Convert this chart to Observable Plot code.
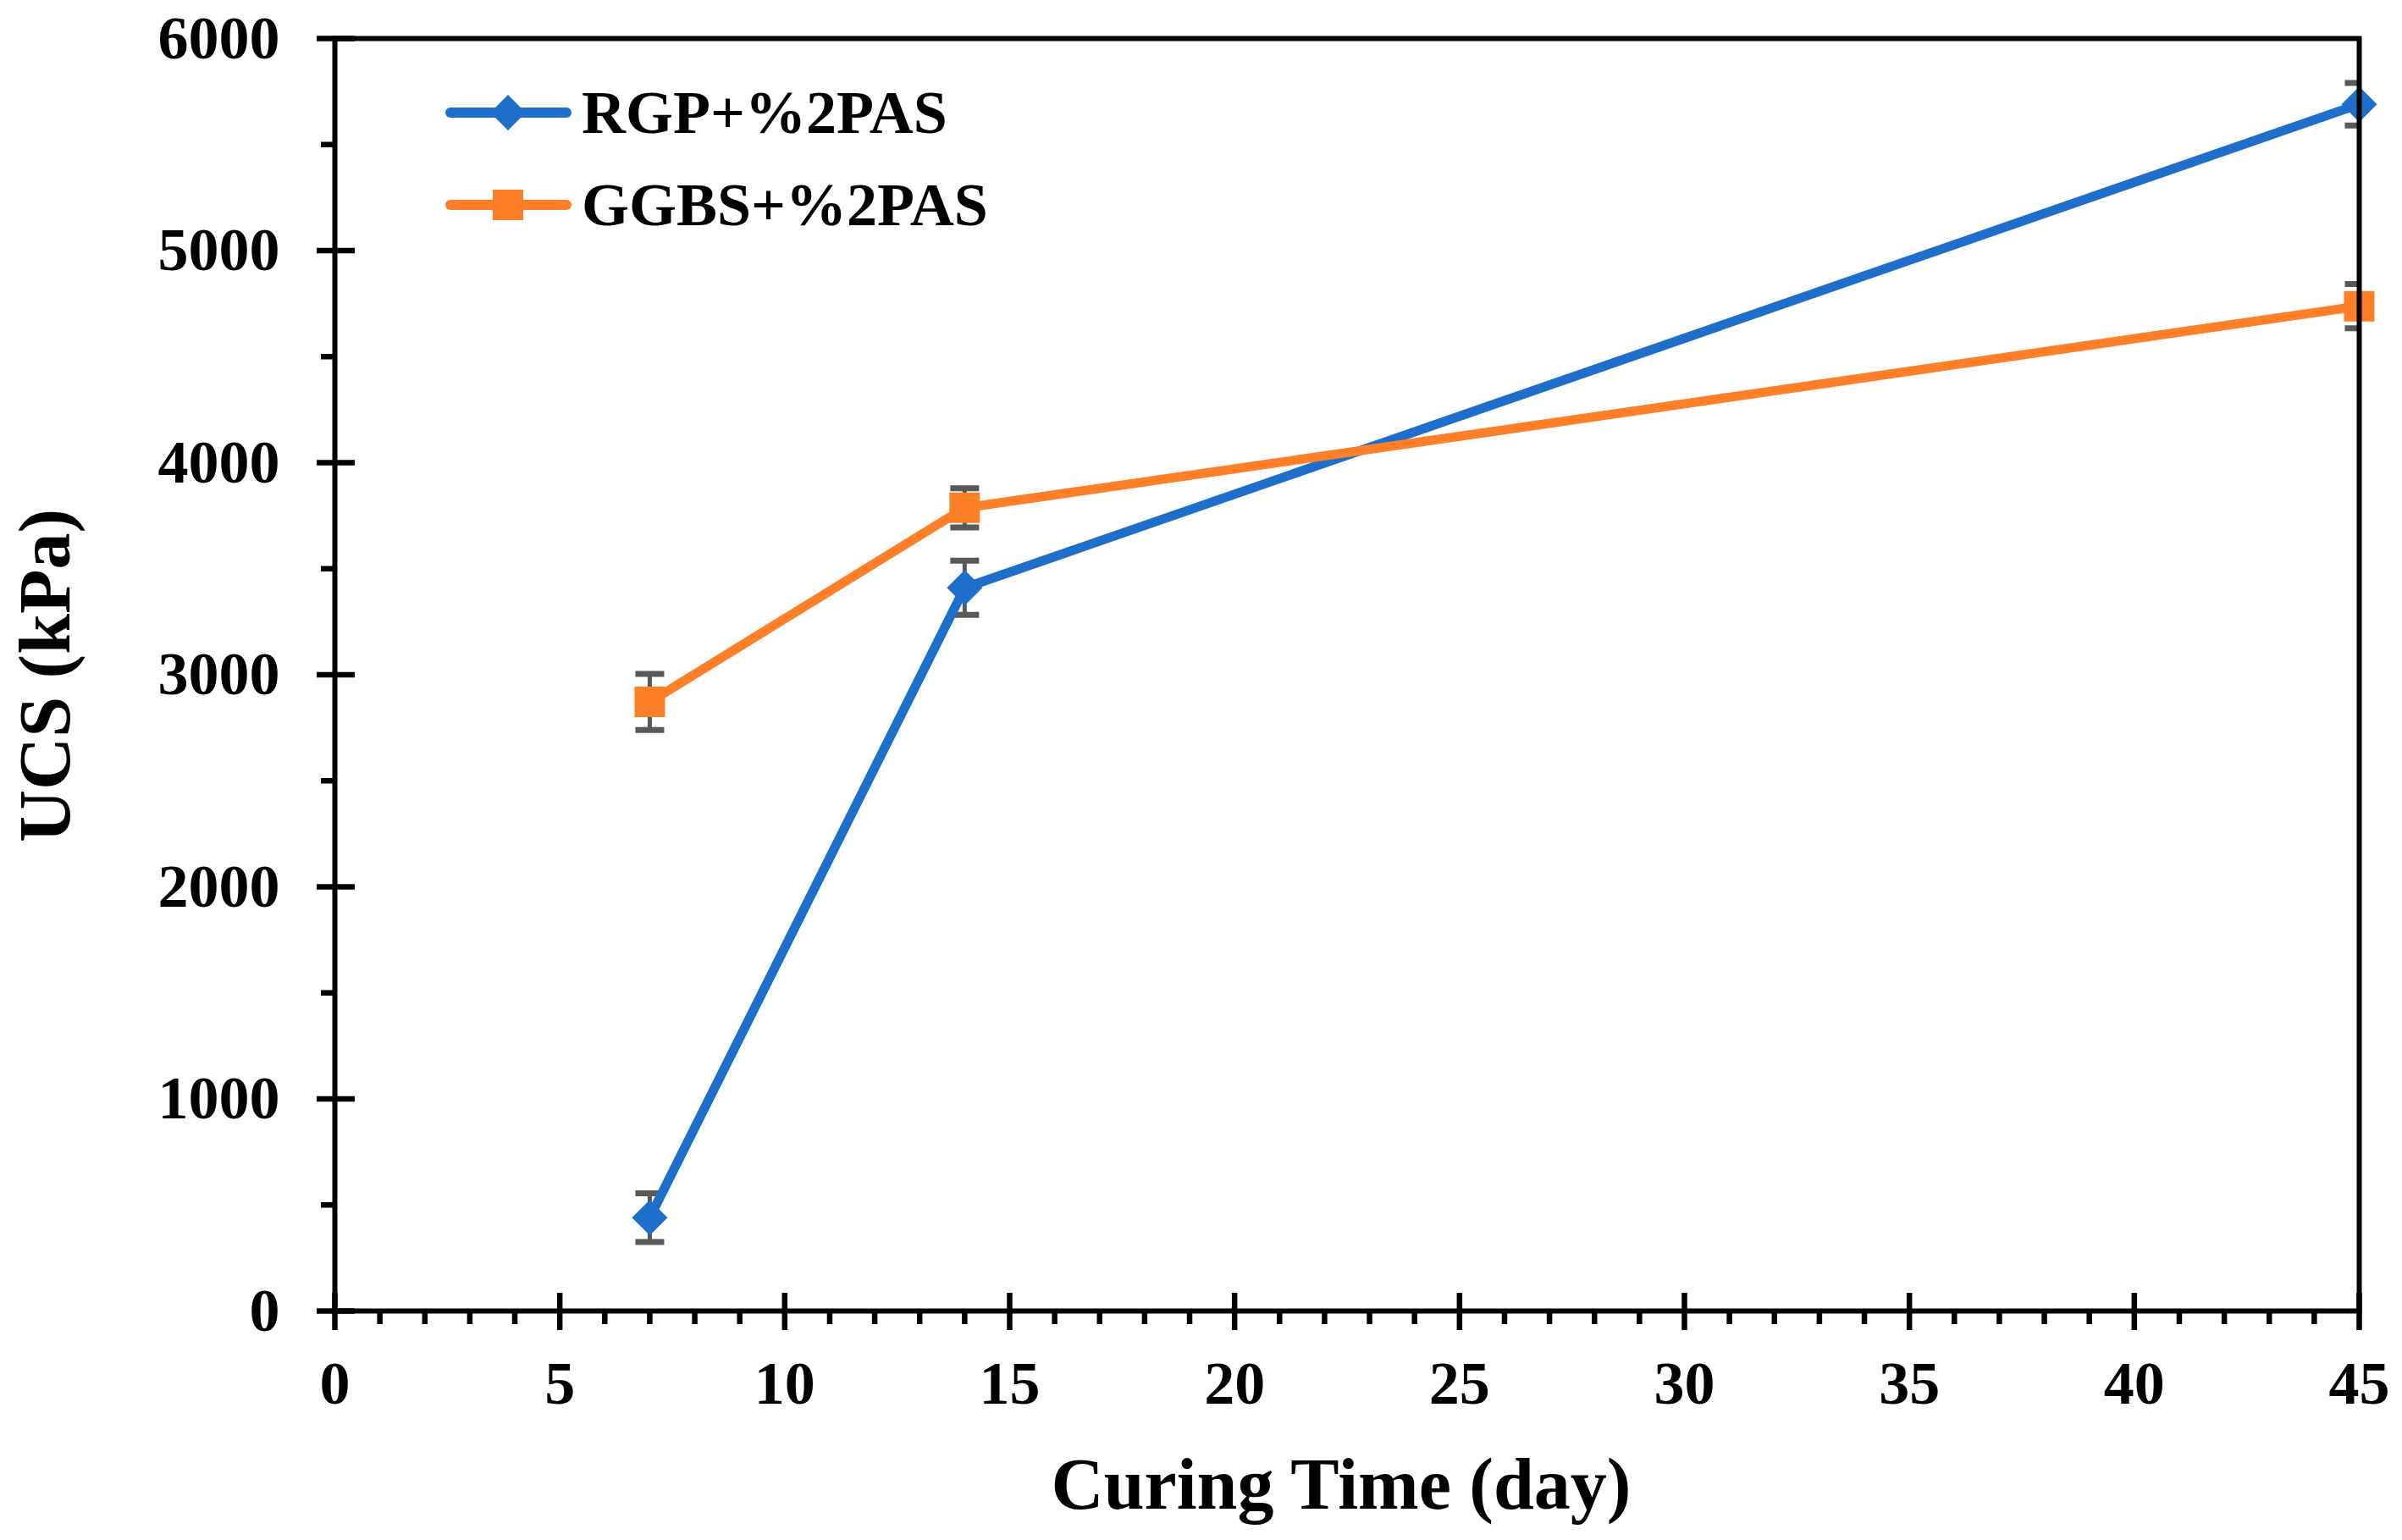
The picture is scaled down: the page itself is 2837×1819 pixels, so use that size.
<!DOCTYPE html>
<html><head><meta charset="utf-8">
<script src="https://cdn.jsdelivr.net/npm/d3@7"></script>
<script src="https://cdn.jsdelivr.net/npm/@observablehq/plot@0.6"></script>
<style>
html,body{margin:0;padding:0;background:#fff;}
#wrap{position:relative;width:2837px;height:1819px;}
#legend{position:absolute;left:0;top:0;pointer-events:none;}
</style></head><body><div id="wrap"></div>
<script>
// ---- data ----
const days = [7, 14, 45];
const seriesNames = ["RGP+%2PAS", "GGBS+%2PAS"];
const rgpUCS = [440, 3410, 5690];
const rgpErr = [115, 128, 100];
const ggbsUCS = [2872, 3787, 4738];
const ggbsErr = [132, 92, 104];
const seriesColors = ["#1E6FCC", "#FE7F27"];
const xMajorTicks = [0, 5, 10, 15, 20, 25, 30, 35, 40, 45];
const xMinorTicks = [1,2,3,4,6,7,8,9,11,12,13,14,16,17,18,19,21,22,23,24,26,27,28,29,31,32,33,34,36,37,38,39,41,42,43,44];
const yMajorTicks = [0, 1000, 2000, 3000, 4000, 5000, 6000];
const yMinorTicks = [500, 1500, 2500, 3500, 4500, 5500];
const xTitle = "Curing Time (day)";
const yTitle = "UCS (kPa)";

const rows = [];
days.forEach((d, i) => {
  rows.push({series: seriesNames[0], day: d, ucs: rgpUCS[i], err: rgpErr[i]});
  rows.push({series: seriesNames[1], day: d, ucs: ggbsUCS[i], err: ggbsErr[i]});
});
const rgpRows = rows.filter(r => r.series === seriesNames[0]);
const ggbsRows = rows.filter(r => r.series === seriesNames[1]);

// custom symbols
const capSymbol = {draw(ctx) { ctx.moveTo(-17, 0); ctx.lineTo(17, 0); }};
const diamondSymbol = {draw(ctx) { ctx.moveTo(0, -21); ctx.lineTo(21, 0); ctx.lineTo(0, 21); ctx.lineTo(-21, 0); ctx.closePath(); }};
const squareSymbol = {draw(ctx) { ctx.rect(-18, -18, 36, 36); }};

const font = "'Liberation Serif', 'Times New Roman', serif";
const errColor = "#595959";
const plain = d => String(d);

const chart = Plot.plot({
  width: 2837,
  height: 1819,
  marginLeft: 395,
  marginRight: 51,
  marginTop: 45,
  marginBottom: 271,
  style: {fontFamily: font, fontWeight: "bold", fontSize: "72px", color: "black", background: "white"},
  x: {domain: [0, 45]},
  y: {domain: [0, 6000]},
  color: {domain: seriesNames, range: seriesColors},
  marks: [
    // error bars
    Plot.ruleX(rows, {x: "day", y1: d => d.ucs - d.err, y2: d => d.ucs + d.err, stroke: errColor, strokeWidth: 5, clip: true}),
    Plot.dot(rows, {x: "day", y: d => d.ucs - d.err, symbol: capSymbol, stroke: errColor, fill: "none", strokeWidth: 7, clip: true}),
    Plot.dot(rows, {x: "day", y: d => d.ucs + d.err, symbol: capSymbol, stroke: errColor, fill: "none", strokeWidth: 7, clip: true}),
    // lines
    Plot.line(rows, {x: "day", y: "ucs", z: "series", stroke: "series", strokeWidth: 11}),
    // markers
    Plot.dot(rgpRows, {x: "day", y: "ucs", symbol: diamondSymbol, fill: seriesColors[0], stroke: "none"}),
    Plot.dot(ggbsRows, {x: "day", y: "ucs", symbol: squareSymbol, fill: seriesColors[1], stroke: "none"}),
    // frame
    Plot.frame({stroke: "black", strokeWidth: 6}),
    // y axis ticks
    Plot.axisY({ticks: yMajorTicks, tickSize: 45, dx: 24, strokeWidth: 6.5, fill: "none", label: null}),
    Plot.axisY({ticks: yMinorTicks, tickSize: 16, strokeWidth: 6.5, fill: "none", label: null}),
    Plot.axisY({ticks: yMajorTicks, tickSize: 0, tickPadding: 65, tickFormat: plain, fontSize: 72, fontWeight: "bold", label: null}),
    // x axis ticks
    Plot.axisX({ticks: xMajorTicks, tickSize: 44, dy: -21, strokeWidth: 6.5, fill: "none", label: null}),
    Plot.axisX({ticks: xMinorTicks, tickSize: 16, strokeWidth: 6.5, fill: "none", label: null}),
    Plot.axisX({ticks: xMajorTicks, tickSize: 0, tickPadding: 58, tickFormat: plain, fontSize: 72, fontWeight: "bold", label: null}),
    // axis titles
    Plot.text([yTitle], {text: d => d, frameAnchor: "left", rotate: -90, dx: -341, dy: 198, fontSize: 86, fontWeight: "bold", fill: "black"}),
    Plot.text([xTitle], {text: d => d, frameAnchor: "bottom", lineAnchor: "top", dx: -7, dy: 172, fontSize: 86, fontWeight: "bold", fill: "black"})
  ]
});

const wrap = document.getElementById("wrap");
wrap.appendChild(chart);

// legend overlay
const lg = d3.select(wrap).append("svg").attr("id", "legend")
  .attr("width", 2837).attr("height", 1819);
const legendRows = [
  {name: seriesNames[0], color: seriesColors[0], symbol: diamondSymbol, y: 133},
  {name: seriesNames[1], color: seriesColors[1], symbol: squareSymbol, y: 242}
];
legendRows.forEach(r => {
  lg.append("line").attr("x1", 532).attr("x2", 669).attr("y1", r.y).attr("y2", r.y)
    .attr("stroke", r.color).attr("stroke-width", 12).attr("stroke-linecap", "round");
  lg.append("path").attr("d", d3.symbol(r.symbol)()).attr("transform", `translate(600,${r.y})`).attr("fill", r.color);
  lg.append("text").attr("x", 687).attr("y", r.y + 24).text(r.name)
    .attr("font-family", font).attr("font-weight", "bold").attr("font-size", 72).attr("fill", "black");
});
</script>
</body></html>
